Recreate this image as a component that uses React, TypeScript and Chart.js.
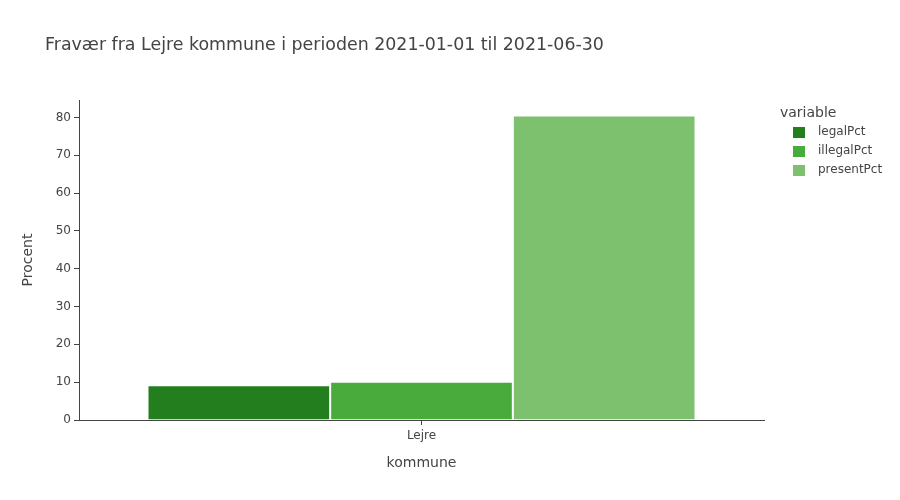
import React, { useEffect, useRef } from "react";
import { Chart, registerables } from "chart.js";

Chart.register(...registerables);

const categories = ["Lejre"];
const seriesNames = ["legalPct", "illegalPct", "presentPct"];
const legalPct = [9.2];
const illegalPct = [10.1];
const presentPct = [80.5];
const seriesColors = ["rgb(35,127,30)", "rgb(73,171,59)", "rgb(125,192,110)"];
const yTicks = [0, 10, 20, 30, 40, 50, 60, 70, 80];
const titleText = "Fravær fra Lejre kommune i perioden 2021-01-01 til 2021-06-30";
const xTitle = "kommune";
const yTitle = "Procent";
const legendTitle = "variable";

const FONT = "'DejaVu Sans', Verdana, sans-serif";
const TEXT = "#444";

const overlayPlugin = {
  id: "overlay",
  afterDraw(chart: any) {
    const ctx = chart.ctx;
    const area = chart.chartArea;
    ctx.save();
    ctx.fillStyle = TEXT;
    ctx.textBaseline = "alphabetic";
    // Title
    ctx.font = `17.4px ${FONT}`;
    ctx.textAlign = "left";
    ctx.fillText(titleText, 45, 50);
    // X title
    ctx.font = `14px ${FONT}`;
    ctx.textAlign = "center";
    ctx.textBaseline = "middle";
    ctx.fillText(xTitle, (area.left + area.right) / 2, 463);
    // Y title
    ctx.save();
    ctx.translate(28, (area.top + area.bottom) / 2);
    ctx.rotate(-Math.PI / 2);
    ctx.fillText(yTitle, 0, 0);
    ctx.restore();
    // Legend
    ctx.textAlign = "left";
    ctx.font = `14px ${FONT}`;
    ctx.fillText(legendTitle, 780, 113);
    ctx.font = `12px ${FONT}`;
    seriesNames.forEach((name, i) => {
      const cy = 132 + i * 19;
      ctx.fillStyle = seriesColors[i];
      ctx.fillRect(793, cy - 5, 12, 11);
      ctx.fillStyle = TEXT;
      ctx.fillText(name, 818, cy);
    });
    ctx.restore();
  },
};

export default function App() {
  const ref = useRef<HTMLCanvasElement | null>(null);
  useEffect(() => {
    if (!ref.current) return;
    const values = [legalPct, illegalPct, presentPct];
    const chart = new Chart(ref.current, {
      type: "bar",
      data: {
        labels: categories,
        datasets: seriesNames.map((name, i) => ({
          label: name,
          data: values[i],
          backgroundColor: seriesColors[i],
          borderColor: "rgba(255,255,255,0.8)",
          borderWidth: 1,
          categoryPercentage: 0.8,
          barPercentage: 1.0,
        })),
      },
      options: {
        responsive: false,
        animation: false,
        layout: { padding: { left: 0, top: 100, right: 136, bottom: 0 } },
        plugins: {
          legend: { display: false },
          title: { display: false },
          tooltip: { enabled: false },
        },
        scales: {
          x: {
            grid: {
              display: true,
              drawOnChartArea: false,
              drawTicks: true,
              tickLength: 5,
              offset: false,
              color: TEXT,
            },
            border: { display: true, color: TEXT, width: 1 },
            ticks: { color: TEXT, font: { family: FONT, size: 12 }, padding: 4 },
            afterFit: (scale: any) => {
              scale.height = 80;
            },
          },
          y: {
            min: 0,
            max: 84.6,
            grid: {
              display: true,
              drawOnChartArea: false,
              drawTicks: true,
              tickLength: 5,
              color: TEXT,
            },
            border: { display: true, color: TEXT, width: 1 },
            ticks: { color: TEXT, font: { family: FONT, size: 12 }, padding: 3, stepSize: 10 },
            afterBuildTicks: (scale: any) => {
              scale.ticks = yTicks.map((v) => ({ value: v }));
            },
            afterFit: (scale: any) => {
              scale.width = 79;
            },
          },
        },
      },
      plugins: [overlayPlugin],
    });
    return () => chart.destroy();
  }, []);
  return (
    <div style={{ position: "fixed", left: 0, top: 0, width: 900, height: 500, background: "#fff" }}>
      <canvas ref={ref} width={900} height={500} style={{ width: 900, height: 500 }} />
    </div>
  );
}
